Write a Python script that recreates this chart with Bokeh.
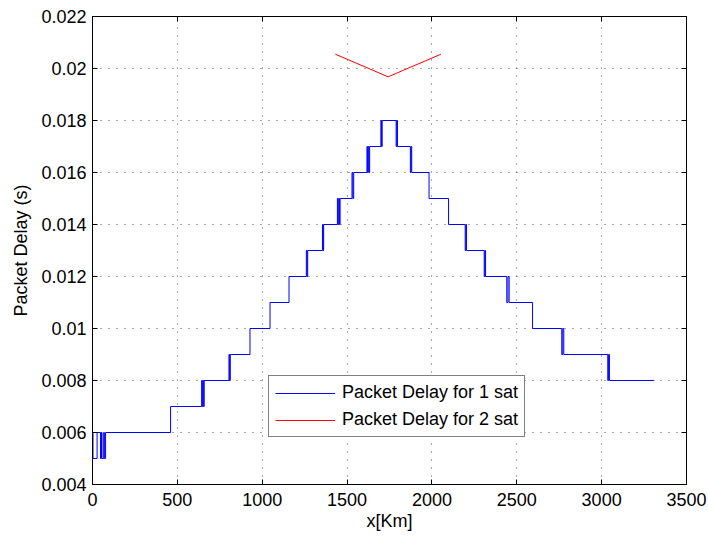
from bokeh.plotting import figure
from bokeh.models import (FixedTicker, LinearAxis, Legend, LegendItem, Range1d)
from bokeh.embed import file_html
from bokeh.resources import INLINE

# Packet delay against distance travelled, one satellite (step trace)
dist_1sat_km = [0, 3, 27, 47, 53, 56, 66, 70, 77,
                460,
                643, 647, 651, 655, 658,
                804, 808, 812,
                928, 1046, 1158,
                1260, 1264, 1268,
                1355, 1359, 1362,
                1443, 1447, 1451, 1455, 1459,
                1529, 1534, 1539,
                1617, 1621, 1625, 1629, 1633,
                1699, 1703, 1707,
                1789, 1793, 1797,
                1873, 1877, 1881,
                1983, 2098,
                2196, 2200, 2204,
                2308, 2312, 2316,
                2441, 2448, 2455,
                2593,
                2765, 2771, 2777,
                3036, 3041, 3046,
                3310]
delay_1sat_s = [0.006, 0.005, 0.006, 0.005, 0.006, 0.005, 0.006, 0.005, 0.006,
                0.007,
                0.008, 0.007, 0.008, 0.007, 0.008,
                0.009, 0.008, 0.009,
                0.010, 0.011, 0.012,
                0.013, 0.012, 0.013,
                0.014, 0.013, 0.014,
                0.015, 0.014, 0.015, 0.014, 0.015,
                0.016, 0.015, 0.016,
                0.017, 0.016, 0.017, 0.016, 0.017,
                0.018, 0.017, 0.018,
                0.017, 0.018, 0.017,
                0.016, 0.017, 0.016,
                0.015, 0.014,
                0.013, 0.014, 0.013,
                0.012, 0.013, 0.012,
                0.011, 0.012, 0.011,
                0.010,
                0.009, 0.010, 0.009,
                0.008, 0.009, 0.008,
                0.008]

# Packet delay with two satellites
dist_2sat_km = [1431, 1742, 2053]
delay_2sat_s = [0.02055, 0.01968, 0.02055]

x_ticks = [0, 500, 1000, 1500, 2000, 2500, 3000, 3500]
y_ticks = [0.004, 0.006, 0.008, 0.010, 0.012, 0.014, 0.016, 0.018, 0.020, 0.022]
y_tick_labels = ["0.004", "0.006", "0.008", "0.01", "0.012", "0.014",
                 "0.016", "0.018", "0.02", "0.022"]

FONT = "Liberation Sans"
FS = "18px"

p = figure(width=708, height=536, output_backend="svg", toolbar_location=None,
           x_range=Range1d(0, 3500), y_range=Range1d(0.004, 0.022),
           min_border_left=92, min_border_right=22, min_border_top=16,
           min_border_bottom=52)
p.background_fill_color = "white"
p.border_fill_color = "white"
p.outline_line_color = "black"
p.outline_line_width = 1

r1 = p.step(dist_1sat_km, delay_1sat_s, mode="after", line_color="#0000ff", line_width=1)
r2 = p.line(dist_2sat_km, delay_2sat_s, line_color="#ff0000", line_width=1)

xt = FixedTicker(ticks=x_ticks)
yt = FixedTicker(ticks=y_ticks)
overrides = {t: s for t, s in zip(y_ticks, y_tick_labels)}

for ax in p.xaxis:
    ax.ticker = xt
for ax in p.yaxis:
    ax.ticker = yt
    ax.major_label_overrides = overrides

for ax in p.xaxis + p.yaxis:
    ax.axis_line_color = "black"
    ax.major_tick_in = 5
    ax.major_tick_out = 0
    ax.minor_tick_line_color = None
    ax.major_label_text_font = FONT
    ax.major_label_text_font_size = FS
    ax.major_label_text_color = "black"
    ax.axis_label_text_font = FONT
    ax.axis_label_text_font_size = FS
    ax.axis_label_text_font_style = "normal"
    ax.axis_label_text_color = "black"

p.xaxis.axis_label = "x[Km]"
p.xaxis.major_label_standoff = 8
p.xaxis.axis_label_standoff = 2
p.yaxis.axis_label = "Packet Delay (s)"
p.yaxis.major_label_standoff = 6
p.yaxis.axis_label_standoff = 7

# box ticks on the top and right edges, without labels
top = LinearAxis(ticker=xt, major_tick_in=5, major_tick_out=0,
                 minor_tick_line_color=None, major_label_text_font_size="0px",
                 major_label_text_color=None, major_label_standoff=0,
                 axis_line_color="black")
right = LinearAxis(ticker=yt, major_tick_in=5, major_tick_out=0,
                   minor_tick_line_color=None, major_label_text_font_size="0px",
                   major_label_text_color=None, major_label_standoff=0,
                   axis_line_color="black")
p.add_layout(top, "above")
p.add_layout(right, "right")

for g in (p.xgrid[0], p.ygrid[0]):
    g.grid_line_color = "#555555"
    g.grid_line_dash = "1 7"
    g.grid_line_width = 1
p.xgrid[0].ticker = xt
p.ygrid[0].ticker = yt

legend = Legend(items=[LegendItem(label="Packet Delay for 1 sat", renderers=[r1]),
                       LegendItem(label="Packet Delay for 2 sat", renderers=[r2])],
                location=(176, 47))
legend.label_text_font = FONT
legend.label_text_font_size = FS
legend.label_text_color = "black"
legend.border_line_color = "black"
legend.border_line_width = 1
legend.background_fill_color = "white"
legend.background_fill_alpha = 1
legend.padding = 6
legend.spacing = 6
legend.margin = 0
legend.glyph_width = 60
legend.glyph_height = 20
legend.label_height = 20
legend.label_standoff = 7
p.add_layout(legend, "center")

open("out.html", "w").write(file_html(p, INLINE))
